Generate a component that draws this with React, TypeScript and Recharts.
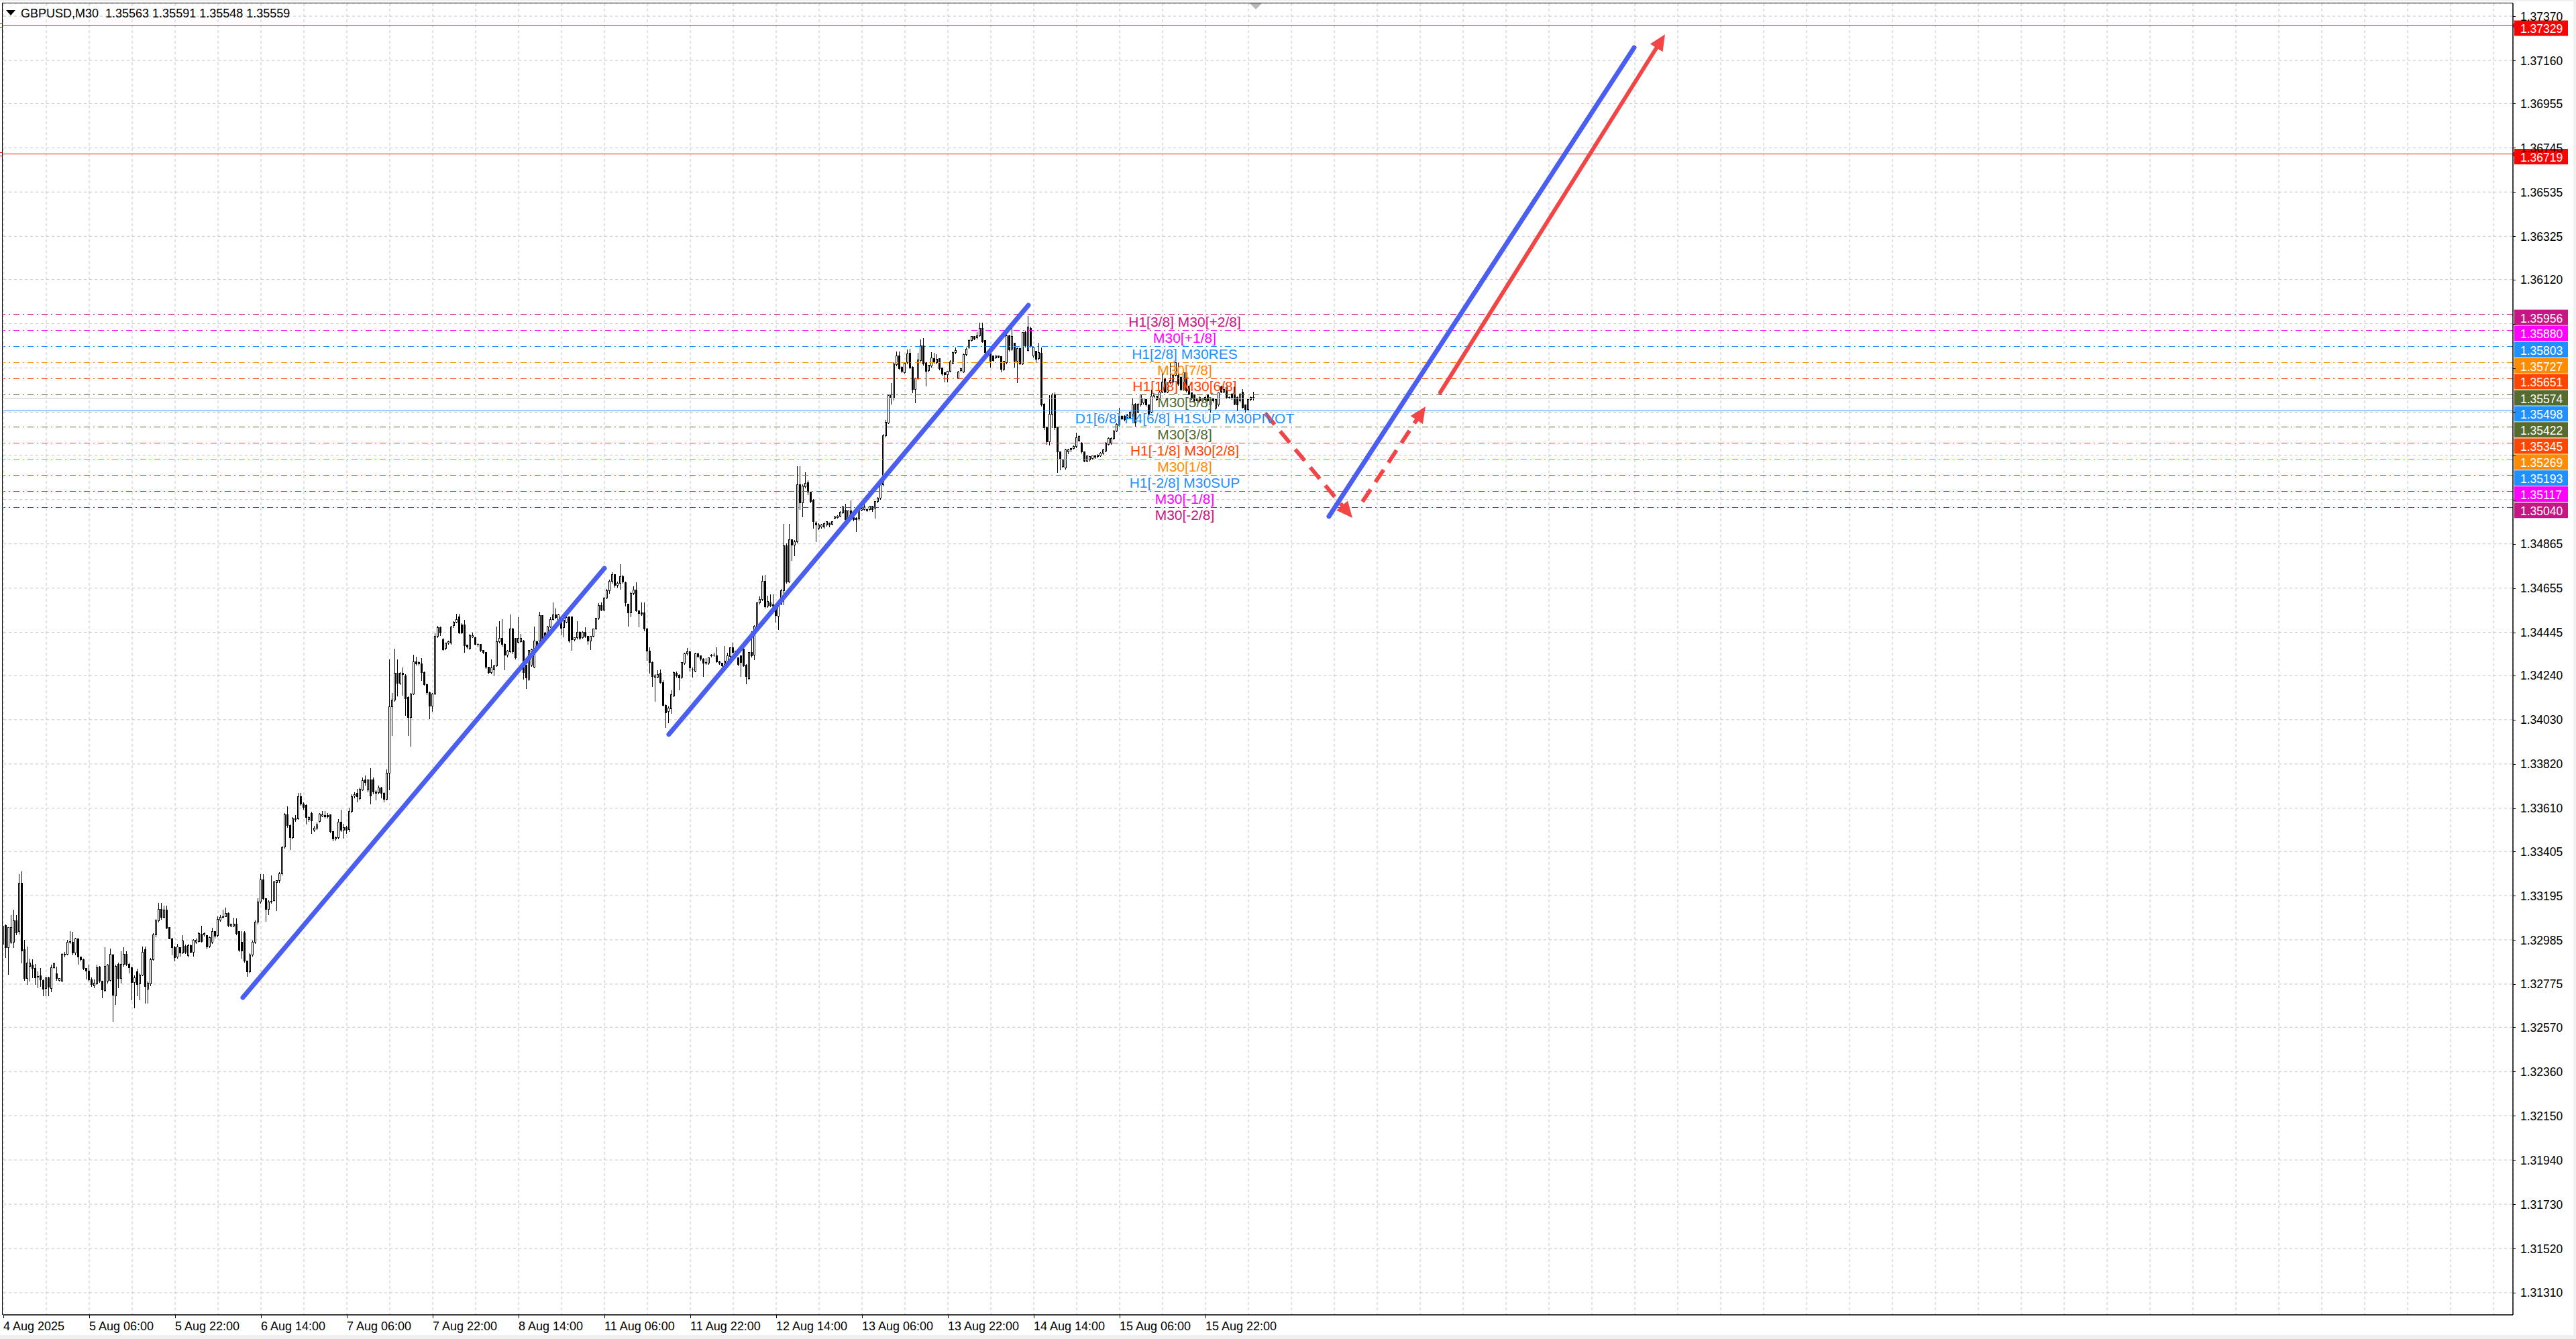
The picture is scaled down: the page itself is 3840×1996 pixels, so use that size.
import React from 'react';
import { ComposedChart, Bar, XAxis, YAxis, CartesianGrid, ReferenceLine, ReferenceDot } from 'recharts';

// GBPUSD M30, 4 Aug 14:00 .. 15 Aug. Each candle is [open, high, low, close]
// in 0.00001 steps above 1.30000 (so 3052 = 1.33052).
const AUG04 = [
  [2967, 3142, 2960, 3052], [3055, 3060, 2903, 2949], [2951, 3050, 2823, 3046], [2974, 3105, 2970, 3044],
  [2974, 3131, 2950, 3076], [3076, 3105, 3010, 3020], [3025, 3301, 3015, 3255], [3255, 3312, 2876, 2935],
  [2940, 2988, 2795, 2804], [2804, 2956, 2775, 2876], [2860, 2900, 2790, 2876], [2868, 2895, 2807, 2852],
  [2850, 2875, 2775, 2807], [2810, 2840, 2760, 2813], [2815, 2855, 2765, 2797], [2795, 2800, 2722, 2754],
  [2756, 2810, 2722, 2807], [2807, 2812, 2722, 2763], [2756, 2870, 2740, 2853], [2853, 2880, 2850, 2874],
];
const AUG05 = [
  [2826, 2860, 2795, 2802], [2795, 2805, 2790, 2802], [2791, 2925, 2789, 2917], [2914, 2930, 2905, 2919],
  [2919, 2988, 2915, 2977], [2977, 3030, 2970, 2979], [2977, 3028, 2915, 2924], [2924, 2998, 2915, 2991],
  [2991, 2995, 2871, 2906], [2906, 2910, 2885, 2892], [2894, 2900, 2845, 2850], [2850, 2855, 2800, 2839],
  [2839, 2870, 2790, 2797], [2797, 2810, 2765, 2775], [2769, 2800, 2760, 2781], [2779, 2870, 2775, 2856],
  [2858, 2865, 2785, 2791], [2791, 2795, 2712, 2749], [2747, 2953, 2740, 2862], [2791, 2875, 2780, 2867],
  [2795, 2946, 2790, 2917], [2914, 2920, 2600, 2724], [2722, 2870, 2680, 2862], [2871, 2880, 2760, 2802],
  [2804, 2935, 2780, 2871], [2871, 2953, 2860, 2919], [2919, 2935, 2865, 2871], [2871, 2880, 2830, 2855],
  [2855, 2860, 2701, 2786], [2786, 2820, 2664, 2807], [2834, 2850, 2720, 2775], [2779, 2830, 2701, 2821],
  [2821, 2956, 2815, 2929], [2940, 2956, 2685, 2765], [2754, 2790, 2685, 2781], [2779, 2903, 2770, 2894],
  [2894, 3020, 2890, 3009], [3009, 3086, 3000, 3078], [3078, 3162, 3070, 3131], [3131, 3162, 3085, 3094],
  [3094, 3150, 3090, 3128], [3128, 3152, 3040, 3043], [3046, 3050, 2990, 2993], [2993, 2998, 2914, 2949],
  [2951, 2960, 2887, 2903], [2906, 2970, 2900, 2953], [2949, 2953, 2910, 2924], [2924, 3009, 2920, 2983],
];
const AUG06 = [
  [2956, 2965, 2920, 2929], [2912, 2970, 2905, 2961], [2958, 2965, 2925, 2929], [2927, 2990, 2910, 2985],
  [2974, 2995, 2970, 2985], [2979, 3025, 2975, 3018], [3015, 3054, 2975, 2979], [3009, 3022, 3005, 3017],
  [3006, 3010, 2945, 2953], [2956, 3005, 2950, 2998], [2977, 3046, 2970, 3025], [3025, 3030, 2995, 3004],
  [3006, 3100, 3000, 3083], [3081, 3105, 3075, 3094], [3094, 3131, 3090, 3097], [3097, 3140, 3095, 3112],
  [3112, 3118, 3050, 3055], [3052, 3065, 3048, 3060], [3052, 3094, 3048, 3060], [3060, 3090, 3010, 3018],
  [3025, 3030, 2930, 2938], [2975, 3030, 2898, 2935], [3020, 3030, 2880, 2885], [2885, 2890, 2813, 2834],
  [2834, 2925, 2830, 2916], [2916, 2985, 2910, 2977], [2977, 3080, 2970, 3071], [3070, 3185, 3060, 3168],
  [3168, 3301, 3160, 3271], [3271, 3301, 3175, 3181], [3181, 3185, 3075, 3133], [3130, 3175, 3105, 3168],
  [3171, 3294, 3160, 3166], [3174, 3270, 3170, 3261], [3259, 3270, 3126, 3267], [3267, 3310, 3260, 3301],
  [3301, 3435, 3295, 3426], [3427, 3590, 3420, 3580], [3580, 3623, 3520, 3529], [3529, 3535, 3416, 3472],
  [3472, 3570, 3465, 3563], [3558, 3580, 3550, 3563], [3563, 3685, 3558, 3666], [3666, 3685, 3625, 3632],
  [3632, 3640, 3605, 3615], [3626, 3630, 3535, 3569], [3558, 3575, 3550, 3569], [3586, 3595, 3490, 3552],
];
const AUG07 = [
  [3507, 3530, 3500, 3518], [3518, 3545, 3512, 3532], [3550, 3590, 3545, 3583], [3575, 3600, 3570, 3580],
  [3578, 3600, 3565, 3572], [3578, 3590, 3565, 3572], [3580, 3585, 3495, 3501], [3501, 3505, 3455, 3467],
  [3467, 3480, 3460, 3472], [3472, 3560, 3467, 3544], [3544, 3607, 3500, 3507], [3507, 3540, 3470, 3520],
  [3520, 3530, 3490, 3507], [3509, 3615, 3500, 3597], [3597, 3680, 3590, 3668], [3671, 3690, 3660, 3677],
  [3683, 3706, 3640, 3666], [3657, 3710, 3650, 3702], [3700, 3760, 3695, 3742], [3745, 3770, 3720, 3734],
  [3700, 3750, 3690, 3745], [3745, 3802, 3632, 3671], [3745, 3760, 3680, 3689], [3689, 3700, 3650, 3683],
  [3686, 3720, 3680, 3709], [3709, 3715, 3660, 3683], [3683, 3690, 3640, 3654], [3654, 3797, 3650, 3779],
  [3779, 4318, 3700, 4092], [4092, 4161, 3956, 4126], [4126, 4371, 4120, 4252], [4252, 4320, 4144, 4206],
  [4206, 4260, 4200, 4252], [4252, 4280, 4149, 4246], [4240, 4250, 4052, 4132], [4138, 4145, 3956, 4041],
  [4041, 4160, 3905, 4155], [4155, 4343, 4150, 4306], [4306, 4331, 4290, 4297], [4297, 4310, 4290, 4303],
  [4297, 4325, 4217, 4257], [4257, 4262, 4195, 4200], [4200, 4205, 4150, 4161], [4161, 4165, 4035, 4098],
  [4098, 4160, 4070, 4155], [4155, 4445, 4150, 4428], [4428, 4479, 4420, 4468], [4468, 4475, 4430, 4445],
];
const AUG08 = [
  [4411, 4420, 4360, 4365], [4371, 4400, 4365, 4396], [4396, 4410, 4390, 4402], [4396, 4480, 4390, 4473],
  [4479, 4502, 4470, 4496], [4496, 4536, 4490, 4507], [4519, 4536, 4440, 4445], [4481, 4490, 4440, 4445],
  [4481, 4507, 4351, 4382], [4385, 4390, 4370, 4377], [4371, 4440, 4365, 4431], [4426, 4448, 4420, 4431],
  [4422, 4428, 4385, 4391], [4391, 4395, 4380, 4388], [4388, 4392, 4355, 4360], [4360, 4365, 4345, 4351],
  [4351, 4355, 4275, 4280], [4280, 4285, 4250, 4257], [4257, 4318, 4250, 4278], [4269, 4295, 4240, 4288],
  [4288, 4476, 4285, 4402], [4402, 4502, 4395, 4417], [4419, 4510, 4380, 4388], [4390, 4395, 4269, 4339],
  [4339, 4365, 4330, 4357], [4354, 4534, 4350, 4464], [4464, 4470, 4345, 4354], [4417, 4420, 4320, 4325],
  [4399, 4519, 4395, 4417], [4403, 4439, 4398, 4419], [4407, 4412, 4223, 4257], [4291, 4295, 4178, 4229],
  [4223, 4365, 4218, 4360], [4291, 4370, 4285, 4365], [4282, 4476, 4278, 4405], [4403, 4408, 4355, 4360],
  [4405, 4544, 4400, 4525], [4525, 4530, 4400, 4405], [4445, 4450, 4410, 4417], [4422, 4478, 4418, 4473],
  [4473, 4521, 4468, 4507], [4507, 4589, 4503, 4530], [4530, 4562, 4510, 4517], [4502, 4535, 4498, 4530],
  [4513, 4518, 4434, 4465], [4468, 4510, 4426, 4505], [4494, 4522, 4490, 4517], [4519, 4524, 4400, 4405],
];
const AUG11 = [
  [4519, 4524, 4362, 4411], [4411, 4425, 4405, 4420], [4420, 4502, 4415, 4448], [4448, 4452, 4412, 4417],
  [4422, 4452, 4418, 4448], [4448, 4471, 4422, 4428], [4428, 4432, 4391, 4405], [4405, 4432, 4365, 4428],
  [4428, 4466, 4424, 4462], [4462, 4518, 4458, 4513], [4513, 4587, 4508, 4573], [4573, 4589, 4548, 4553],
  [4553, 4615, 4548, 4610], [4610, 4655, 4605, 4644], [4644, 4700, 4630, 4690], [4690, 4735, 4680, 4720],
  [4720, 4725, 4660, 4671], [4671, 4690, 4660, 4678], [4678, 4772, 4650, 4710], [4710, 4720, 4680, 4685],
  [4682, 4690, 4570, 4586], [4581, 4585, 4477, 4538], [4538, 4640, 4519, 4631], [4631, 4668, 4625, 4647],
  [4647, 4687, 4545, 4549], [4549, 4553, 4471, 4535], [4538, 4589, 4528, 4533], [4538, 4589, 4453, 4464],
  [4464, 4468, 4313, 4358], [4358, 4376, 4254, 4305], [4305, 4310, 4188, 4238], [4235, 4250, 4119, 4241],
  [4235, 4268, 4230, 4245], [4252, 4271, 4205, 4209], [4209, 4220, 4095, 4101], [4101, 4105, 3995, 4066],
  [4071, 4095, 4018, 4087], [4085, 4172, 4061, 4151], [4145, 4262, 4140, 4255], [4252, 4262, 4235, 4241],
  [4243, 4248, 4172, 4230], [4233, 4308, 4228, 4303], [4299, 4350, 4295, 4344], [4344, 4374, 4340, 4356],
  [4355, 4360, 4262, 4278], [4273, 4280, 4233, 4271], [4262, 4350, 4258, 4345], [4345, 4352, 4325, 4331],
];
const AUG12 = [
  [4334, 4338, 4314, 4319], [4321, 4325, 4238, 4299], [4303, 4326, 4295, 4299], [4299, 4330, 4295, 4326],
  [4339, 4345, 4330, 4334], [4339, 4350, 4333, 4337], [4334, 4377, 4303, 4308], [4308, 4312, 4295, 4299],
  [4299, 4303, 4284, 4289], [4289, 4384, 4285, 4310], [4310, 4350, 4305, 4334], [4331, 4376, 4326, 4372],
  [4372, 4398, 4348, 4352], [4358, 4362, 4345, 4349], [4326, 4330, 4289, 4294], [4334, 4338, 4238, 4305],
  [4368, 4379, 4284, 4289], [4292, 4296, 4201, 4236], [4227, 4355, 4222, 4350], [4352, 4453, 4330, 4334],
  [4340, 4482, 4315, 4477], [4477, 4590, 4472, 4586], [4586, 4618, 4580, 4602], [4602, 4717, 4598, 4689],
  [4689, 4721, 4560, 4568], [4570, 4623, 4565, 4594], [4588, 4629, 4568, 4573], [4578, 4629, 4565, 4570],
  [4570, 4574, 4496, 4526], [4522, 4585, 4461, 4581], [4581, 4655, 4576, 4644], [4644, 4963, 4578, 4859],
  [4857, 4870, 4680, 4687], [4687, 4963, 4682, 4885], [4885, 4890, 4788, 4862], [4862, 4885, 4809, 4878],
  [4876, 5236, 4870, 5148], [5148, 5236, 5030, 5063], [5063, 5150, 4994, 5140], [5137, 5209, 5130, 5153],
  [5158, 5170, 5100, 5111], [5111, 5115, 5060, 5068], [5074, 5080, 4941, 4971], [4965, 4975, 4877, 4955],
  [4941, 4965, 4935, 4957], [4946, 4962, 4940, 4957], [4946, 4968, 4942, 4962], [4955, 4975, 4950, 4971],
];
const AUG13 = [
  [4965, 4970, 4948, 4955], [4960, 4975, 4955, 4971], [4989, 5000, 4985, 4994], [4992, 5005, 4988, 4999],
  [4999, 5022, 4995, 5018], [5015, 5048, 5010, 5042], [5026, 5058, 4978, 4983], [4991, 5028, 4985, 5023],
  [5023, 5074, 4990, 4994], [4991, 4995, 4975, 4983], [4989, 4995, 4923, 4983], [4985, 5028, 4980, 5023],
  [5026, 5038, 5022, 5033], [5031, 5058, 5028, 5042], [5024, 5036, 5020, 5031], [5031, 5050, 5026, 5044],
  [5044, 5050, 5020, 5031], [5036, 5072, 4989, 5068], [5068, 5090, 5062, 5084], [5084, 5155, 5078, 5148],
  [5148, 5390, 5140, 5381], [5381, 5455, 5375, 5445], [5442, 5575, 5436, 5570], [5557, 5633, 5530, 5573],
  [5557, 5730, 5550, 5721], [5716, 5782, 5710, 5758], [5758, 5780, 5695, 5700], [5705, 5710, 5680, 5686],
  [5679, 5730, 5675, 5724], [5726, 5790, 5720, 5767], [5771, 5795, 5698, 5702], [5705, 5710, 5583, 5601],
  [5601, 5658, 5535, 5652], [5652, 5774, 5648, 5739], [5737, 5838, 5732, 5806], [5808, 5846, 5715, 5721],
  [5726, 5730, 5617, 5686], [5689, 5718, 5684, 5713], [5711, 5777, 5706, 5748], [5745, 5774, 5725, 5730],
  [5726, 5769, 5720, 5742], [5745, 5750, 5692, 5697], [5702, 5706, 5668, 5673], [5679, 5684, 5636, 5671],
  [5671, 5690, 5636, 5686], [5686, 5739, 5682, 5729], [5724, 5780, 5720, 5774], [5774, 5799, 5770, 5785],
];
const AUG14 = [
  [5654, 5690, 5650, 5684], [5689, 5705, 5684, 5698], [5684, 5772, 5680, 5766], [5766, 5799, 5760, 5790],
  [5799, 5838, 5795, 5831], [5833, 5856, 5828, 5851], [5851, 5856, 5835, 5840], [5845, 5875, 5840, 5856],
  [5854, 5918, 5850, 5891], [5891, 5918, 5822, 5827], [5831, 5836, 5770, 5774], [5780, 5784, 5758, 5764],
  [5774, 5778, 5705, 5732], [5758, 5762, 5732, 5737], [5750, 5762, 5745, 5758], [5758, 5762, 5748, 5753],
  [5756, 5760, 5684, 5695], [5695, 5736, 5690, 5732], [5726, 5891, 5722, 5854], [5856, 5860, 5782, 5787],
  [5790, 5896, 5785, 5851], [5819, 5824, 5705, 5732], [5732, 5800, 5633, 5795], [5795, 5800, 5716, 5721],
  [5721, 5875, 5716, 5870], [5870, 5880, 5800, 5806], [5785, 5949, 5782, 5896], [5891, 5900, 5800, 5806],
  [5758, 5806, 5753, 5801], [5780, 5785, 5726, 5742], [5745, 5824, 5740, 5774], [5771, 5800, 5520, 5525],
  [5530, 5535, 5410, 5419], [5419, 5425, 5340, 5350], [5350, 5573, 5334, 5482], [5482, 5585, 5419, 5573],
  [5573, 5586, 5410, 5419], [5419, 5425, 5206, 5302], [5302, 5305, 5217, 5270], [5233, 5270, 5227, 5265],
  [5227, 5318, 5220, 5312], [5302, 5320, 5295, 5312], [5312, 5322, 5305, 5318], [5320, 5335, 5315, 5328],
  [5328, 5395, 5324, 5371], [5357, 5382, 5352, 5376], [5344, 5350, 5297, 5302], [5302, 5306, 5255, 5259],
];
const AUG15 = [
  [5259, 5287, 5255, 5283], [5265, 5285, 5260, 5281], [5272, 5288, 5268, 5283], [5283, 5290, 5272, 5278],
  [5281, 5295, 5276, 5289], [5286, 5302, 5282, 5297], [5297, 5318, 5292, 5312], [5307, 5350, 5302, 5344],
  [5339, 5372, 5335, 5366], [5344, 5374, 5340, 5368], [5366, 5410, 5360, 5403], [5403, 5440, 5398, 5435],
  [5431, 5514, 5426, 5472], [5472, 5478, 5455, 5461], [5472, 5478, 5450, 5456], [5466, 5484, 5460, 5477],
  [5466, 5498, 5460, 5493], [5472, 5557, 5466, 5525], [5530, 5535, 5424, 5440], [5493, 5535, 5488, 5530],
  [5525, 5578, 5520, 5573], [5535, 5562, 5530, 5557], [5551, 5556, 5520, 5525], [5525, 5530, 5477, 5482],
  [5493, 5599, 5488, 5567], [5567, 5578, 5562, 5573], [5551, 5572, 5546, 5567], [5557, 5594, 5552, 5588],
  [5588, 5676, 5583, 5636], [5652, 5657, 5583, 5588], [5588, 5636, 5583, 5631], [5631, 5726, 5626, 5642],
  [5636, 5674, 5631, 5668], [5668, 5730, 5663, 5726], [5668, 5730, 5620, 5626], [5657, 5662, 5594, 5599],
  [5599, 5685, 5594, 5679], [5679, 5684, 5588, 5594], [5615, 5620, 5573, 5578], [5583, 5588, 5552, 5557],
  [5573, 5578, 5540, 5546], [5546, 5562, 5540, 5557], [5562, 5567, 5540, 5546], [5546, 5562, 5542, 5557],
  [5551, 5567, 5546, 5562], [5573, 5578, 5540, 5546], [5525, 5556, 5493, 5551], [5557, 5562, 5540, 5546],
  [5509, 5556, 5504, 5551], [5525, 5588, 5520, 5583], [5612, 5620, 5583, 5588], [5588, 5615, 5583, 5599],
  [5610, 5615, 5556, 5562], [5559, 5567, 5554, 5562], [5578, 5583, 5552, 5557], [5610, 5615, 5525, 5530],
  [5562, 5567, 5498, 5525], [5546, 5583, 5540, 5578], [5588, 5604, 5509, 5514], [5525, 5530, 5491, 5504],
  [5504, 5556, 5498, 5551], [5551, 5567, 5546, 5562], [5563, 5591, 5548, 5559],
];

const SYMBOL = 'GBPUSD,M30';
const HEADER_OHLC = ['1.35563', '1.35591', '1.35548', '1.35559'];

// time axis: a label every 32 bars, grid every 16 bars
const X_LABELS = [
  '4 Aug 2025', '5 Aug 06:00', '5 Aug 22:00', '6 Aug 14:00', '7 Aug 06:00', '7 Aug 22:00', '8 Aug 14:00',
  '11 Aug 06:00', '11 Aug 22:00', '12 Aug 14:00', '13 Aug 06:00', '13 Aug 22:00', '14 Aug 14:00',
  '15 Aug 06:00', '15 Aug 22:00',
];
const Y_TICKS = [
  1.3737, 1.3716, 1.36955, 1.36745, 1.36535, 1.36325, 1.3612, 1.3591, 1.357, 1.3549, 1.35285, 1.35075,
  1.34865, 1.34655, 1.34445, 1.3424, 1.3403, 1.3382, 1.3361, 1.33405, 1.33195, 1.32985, 1.32775, 1.3257,
  1.3236, 1.3215, 1.3194, 1.3173, 1.3152, 1.3131,
];
// tick labels that sit under the level price boxes
const Y_TICKS_COVERED = [1.3591, 1.357, 1.3549, 1.35285, 1.35075];

// Murrey math levels
const LEVEL_PRICES = [1.35956, 1.3588, 1.35803, 1.35727, 1.35651, 1.35574, 1.35498, 1.35422, 1.35345, 1.35269, 1.35193, 1.35117, 1.3504];
const LEVEL_NAMES = [
  'H1[3/8] M30[+2/8]', 'M30[+1/8]', 'H1[2/8] M30RES', 'M30[7/8]', 'H1[1/8] M30[6/8]', 'M30[5/8]',
  'D1[6/8] H4[6/8] H1SUP M30PIVOT', 'M30[3/8]', 'H1[-1/8] M30[2/8]', 'M30[1/8]', 'H1[-2/8] M30SUP',
  'M30[-1/8]', 'M30[-2/8]',
];
const TARGET_PRICES = [1.37329, 1.36719];

// drawn objects, as [bar index, price]
const TREND_LINES = [
  [[89.25, 1.32711], [224, 1.34749]],
  [[248, 1.3396], [382, 1.35998]],
  [[494, 1.34995], [607.75, 1.37221]],
];
const FORECAST_MAIN = [[535.5, 1.35584], [619.25, 1.37284]];
const FORECAST_DIP = [[470.25, 1.35485], [502.75, 1.34988]];
const FORECAST_REBOUND = [[506.5, 1.35065], [530, 1.35517]];
const LABEL_BAR = 440.25;

// ---- layout / style ----
const W = 3840;
const H = 1996;
const PLOT_LEFT = 5;
const PLOT_TOP = 5;
const PLOT_RIGHT = 3746;
const PLOT_BOTTOM = 1960;
const BAR_PX = 4;
const X_MAX = (PLOT_RIGHT - PLOT_LEFT) / BAR_PX;
const Y_MAX = 1.374309;
const Y_MIN = 1.312048;
const AXIS_FONT = '"Liberation Sans", Arial, sans-serif';

const VIOLET = '#C71585';
const MAGENTA = '#FF00FF';
const DBLUE = '#1E90FF';
const ORANGE = '#FF8C00';
const ORANGERED = '#FF4500';
const OLIVE = '#556B2F';
const LEVEL_COLORS = [VIOLET, MAGENTA, DBLUE, ORANGE, ORANGERED, OLIVE, DBLUE, OLIVE, ORANGERED, ORANGE, DBLUE, MAGENTA, VIOLET];
const PIVOT_INDEX = 6;
const TREND_BLUE = '#4a5ef2';
const ARROW_RED = '#f24646';

const toPrice = (v: number) => 1.3 + v / 100000;
const CANDLES = [...AUG04, ...AUG05, ...AUG06, ...AUG07, ...AUG08, ...AUG11, ...AUG12, ...AUG13, ...AUG14, ...AUG15].map(
  ([o, h, l, c], i) => ({ i, o: toPrice(o), h: toPrice(h), l: toPrice(l), c: toPrice(c), range: [toPrice(l), toPrice(h)] })
);
const LAST_CLOSE = CANDLES[CANDLES.length - 1].c;
const X_TICKS = Array.from({ length: Math.floor(X_MAX / 16) + 1 }, (_, k) => k * 16);

function Candle(props: any) {
  const { x, y, width, height, payload } = props;
  if (!payload || !isFinite(x) || !isFinite(y)) return null;
  const { o, h, l, c } = payload;
  const k = h > l ? height / (h - l) : 0;
  const cx = Math.floor(x + width / 2) + 0.5;
  const yHi = Math.round(y) + 0.5;
  const yLo = Math.round(y + height) + 0.5;
  const t = Math.round(y + (h - Math.max(o, c)) * k) + 0.5;
  const b = Math.round(y + (h - Math.min(o, c)) * k) + 0.5;
  const bull = c > o;
  return (
    <g shapeRendering="crispEdges">
      <line x1={cx} x2={cx} y1={yHi} y2={yLo} stroke="#000" strokeWidth={1} />
      {b - t < 1 ? (
        <line x1={cx - 1.5} x2={cx + 1.5} y1={t} y2={t} stroke="#000" strokeWidth={1} />
      ) : (
        <rect x={cx - 1} y={t} width={2} height={b - t} fill={bull ? '#fff' : '#000'} stroke="#000" strokeWidth={1} />
      )}
    </g>
  );
}

const hLine = (color: string, dash?: string, ends?: boolean) => (p: any) => {
  const yy = Math.round(p.y1) + 0.5;
  return (
    <g shapeRendering="crispEdges">
      <line x1={p.x1} x2={p.x2} y1={yy} y2={yy} stroke={color} strokeWidth={1} strokeDasharray={dash} />
      {ends && <rect x={p.x1 + 1.5} y={yy - 2.5} width={4} height={5} fill="#fff" stroke={color} />}
      {ends && <rect x={p.x2 - 5.5} y={yy - 2.5} width={4} height={5} fill="#fff" stroke={color} />}
    </g>
  );
};

const segment = (color: string, width: number, dash?: string, arrow?: boolean) => (p: any) => {
  const { x1, y1, x2, y2 } = p;
  let ex = x2;
  let ey = y2;
  let head = null;
  if (arrow) {
    const len = Math.hypot(x2 - x1, y2 - y1) || 1;
    const ux = (x2 - x1) / len;
    const uy = (y2 - y1) / len;
    const L = 24;
    const hw = 11;
    const bx = x2 - ux * L;
    const by = y2 - uy * L;
    ex = x2 - ux * (L - 2);
    ey = y2 - uy * (L - 2);
    head = <polygon points={`${x2},${y2} ${bx - uy * hw},${by + ux * hw} ${bx + uy * hw},${by - ux * hw}`} fill={color} />;
  }
  return (
    <g>
      <line x1={x1} y1={y1} x2={ex} y2={ey} stroke={color} strokeWidth={width} strokeDasharray={dash} strokeLinecap={dash ? 'butt' : 'round'} />
      {head}
    </g>
  );
};

const levelText = (text: string, color: string) => (p: any) => (
  <text x={p.cx} y={p.cy + 19} textAnchor="middle" fill={color} fontSize={21} fontFamily={AXIS_FONT}>
    {text}
  </text>
);

const priceBox = (price: number, color: string) => (p: any) => (
  <g>
    <rect x={p.cx + 2} y={p.cy - 6.5} width={80} height={23} fill={color} />
    <text x={p.cx + 11} y={p.cy + 12.5} fill="#fff" fontSize={17.5} fontFamily={AXIS_FONT}>
      {price.toFixed(5)}
    </text>
  </g>
);

const shiftMark = (p: any) => (
  <polygon points={`${p.cx - 10},${p.cy - 1} ${p.cx + 10},${p.cy - 1} ${p.cx},${p.cy + 9}`} fill="#b8b8b8" />
);

function PriceTick(props: any) {
  const { x, y, payload } = props;
  const v = payload.value;
  const covered = Y_TICKS_COVERED.includes(v);
  const yy = Math.round(y) + 0.5;
  return (
    <g>
      <line x1={x} x2={x + 4} y1={yy} y2={yy} stroke="#000" strokeWidth={1} shapeRendering="crispEdges" />
      {!covered && (
        <text x={x + 11} y={y + 6.5} fill="#000" fontSize={17.5} fontFamily={AXIS_FONT}>
          {v.toFixed(5)}
        </text>
      )}
    </g>
  );
}

function TimeTick(props: any) {
  const { x, y, payload } = props;
  const k = Math.round(payload.value / 16);
  const label = k % 2 === 0 ? X_LABELS[k / 2] : undefined;
  if (!label) return <g />;
  const xx = Math.round(x) + 0.5;
  return (
    <g>
      <line x1={xx} x2={xx} y1={y} y2={y + 5} stroke="#000" strokeWidth={1} shapeRendering="crispEdges" />
      <text x={x} y={y + 23} fill="#000" fontSize={18} fontFamily={AXIS_FONT}>
        {label}
      </text>
    </g>
  );
}

const pts = (s: number[][]) => [{ x: s[0][0], y: s[0][1] }, { x: s[1][0], y: s[1][1] }];

export default function App() {
  return (
    <div style={{ position: 'absolute', left: 0, top: 0, width: W, height: H, background: '#f0f0f0', overflow: 'hidden' }}>
      <div style={{ position: 'absolute', left: 0, top: 2, width: 3836, height: 1988, background: '#fff' }} />
      <div style={{ position: 'absolute', left: 0, top: 0 }}>
        <ComposedChart width={W} height={H} data={CANDLES} margin={{ top: PLOT_TOP, right: 0, bottom: 0, left: PLOT_LEFT }}>
          <CartesianGrid stroke="#c4c4c4" strokeDasharray="4 4" />
          <XAxis
            dataKey="i"
            type="number"
            domain={[0, X_MAX]}
            allowDataOverflow
            ticks={X_TICKS}
            interval={0}
            height={H - PLOT_BOTTOM}
            tickSize={0}
            tickMargin={0}
            tickLine={false}
            axisLine={{ stroke: '#000', strokeWidth: 1.5 }}
            tick={<TimeTick />}
          />
          <YAxis
            orientation="right"
            type="number"
            domain={[Y_MIN, Y_MAX]}
            allowDataOverflow
            ticks={Y_TICKS}
            interval={0}
            width={W - PLOT_RIGHT}
            tickSize={0}
            tickMargin={0}
            tickLine={false}
            axisLine={{ stroke: '#000', strokeWidth: 1.5 }}
            tick={<PriceTick />}
          />
          {LEVEL_PRICES.map((p, k) => (
            <ReferenceLine
              key={`lv${k}`}
              y={p}
              stroke={LEVEL_COLORS[k]}
              shape={hLine(LEVEL_COLORS[k], k === PIVOT_INDEX ? undefined : '9 5 2 5')}
            />
          ))}
          <ReferenceLine y={LAST_CLOSE} stroke="#c0c0c0" shape={hLine('#c0c0c0')} />
          {TARGET_PRICES.map((p, k) => (
            <ReferenceLine key={`tg${k}`} y={p} stroke="#ff0000" shape={hLine('#ff0000', undefined, true)} />
          ))}
          {LEVEL_PRICES.map((p, k) => (
            <ReferenceDot key={`lt${k}`} x={LABEL_BAR} y={p} r={0} shape={levelText(LEVEL_NAMES[k], LEVEL_COLORS[k])} />
          ))}
          <Bar dataKey="range" barSize={3} shape={<Candle />} isAnimationActive={false} />
          {TREND_LINES.map((s, k) => (
            <ReferenceLine key={`tr${k}`} segment={pts(s)} stroke={TREND_BLUE} shape={segment(TREND_BLUE, 7)} />
          ))}
          <ReferenceLine segment={pts(FORECAST_MAIN)} stroke={ARROW_RED} shape={segment(ARROW_RED, 6, undefined, true)} />
          <ReferenceLine segment={pts(FORECAST_DIP)} stroke={ARROW_RED} shape={segment(ARROW_RED, 6, '22 13', true)} />
          <ReferenceLine segment={pts(FORECAST_REBOUND)} stroke={ARROW_RED} shape={segment(ARROW_RED, 6, '22 13', true)} />
          {LEVEL_PRICES.map((p, k) => (
            <ReferenceDot key={`pb${k}`} x={X_MAX} y={p} r={0} ifOverflow="visible" shape={priceBox(p, LEVEL_COLORS[k])} />
          ))}
          {TARGET_PRICES.map((p, k) => (
            <ReferenceDot key={`tb${k}`} x={X_MAX} y={p} r={0} ifOverflow="visible" shape={priceBox(p, '#ff0000')} />
          ))}
          <ReferenceDot x={CANDLES.length - 0.25} y={Y_MAX} r={0} ifOverflow="visible" shape={shiftMark} />
        </ComposedChart>
      </div>
      <svg style={{ position: 'absolute', left: 0, top: 0, pointerEvents: 'none' }} width={W} height={H}>
        <line x1={3.5} x2={3.5} y1={4} y2={PLOT_BOTTOM} stroke="#000" strokeWidth={1} shapeRendering="crispEdges" />
        <line x1={3} x2={PLOT_RIGHT} y1={4.5} y2={4.5} stroke="#000" strokeWidth={1} shapeRendering="crispEdges" />
        <polygon points="9,15 23,15 16,23" fill="#000" />
        <text x={31} y={26} fontSize={18} fontFamily={AXIS_FONT} fill="#000" xmlSpace="preserve" style={{ whiteSpace: 'pre' }}>
          {`${SYMBOL}  ${HEADER_OHLC.join(' ')}`}
        </text>
      </svg>
    </div>
  );
}
